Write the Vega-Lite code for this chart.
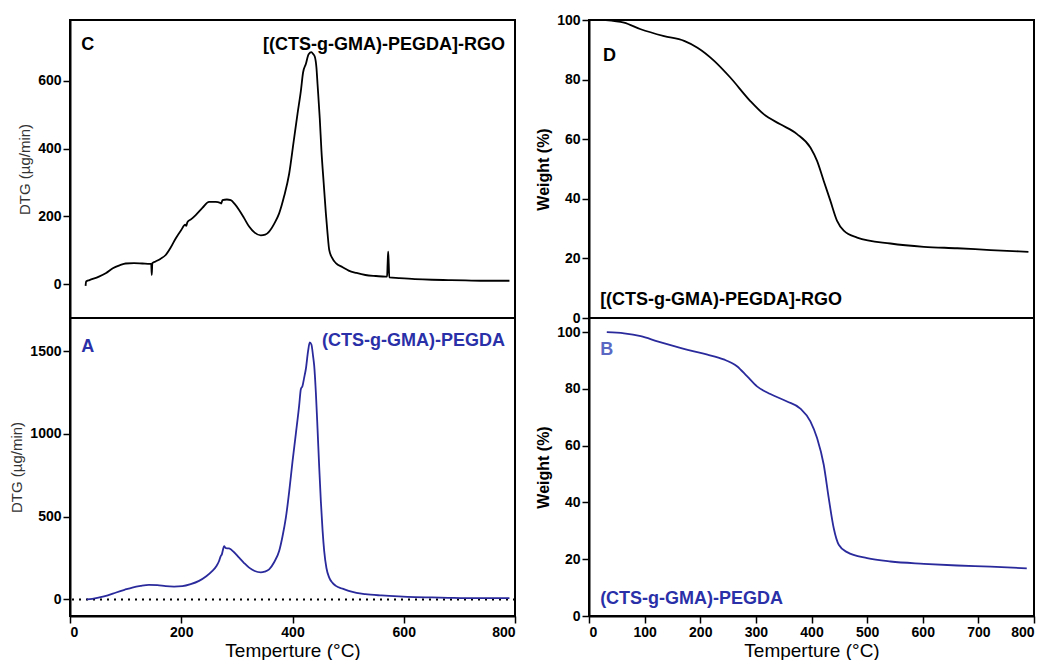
{
  "$schema": "https://vega.github.io/schema/vega-lite/v6.json",
  "background": "white",
  "padding": {"left": 8, "top": 12, "right": 5, "bottom": 2},
  "datasets": {
    "C": [
      {"t":28,"v":-5},{"t":29,"v":8},{"t":35,"v":12},{"t":52,"v":22},{"t":65,"v":33},{"t":77,"v":47},{"t":90,"v":56},{"t":100,"v":61},{"t":115,"v":62},{"t":130,"v":61},{"t":144,"v":60},{"t":146,"v":60},{"t":147,"v":27},{"t":148,"v":62},{"t":154,"v":67},{"t":163,"v":75},{"t":172,"v":86},{"t":181,"v":108},{"t":190,"v":135},{"t":200,"v":160},{"t":207,"v":176},{"t":209,"v":172},{"t":211,"v":183},{"t":218,"v":192},{"t":226,"v":204},{"t":238,"v":225},{"t":250,"v":243},{"t":262,"v":243},{"t":270,"v":240},{"t":272,"v":238},{"t":274,"v":248},{"t":282,"v":250},{"t":289,"v":248},{"t":296,"v":237},{"t":304,"v":219},{"t":313,"v":195},{"t":322,"v":170},{"t":332,"v":152},{"t":343,"v":144},{"t":351,"v":146},{"t":358,"v":155},{"t":367,"v":178},{"t":376,"v":209},{"t":385,"v":260},{"t":394,"v":326},{"t":402,"v":420},{"t":409,"v":503},{"t":415,"v":570},{"t":419,"v":625},{"t":424,"v":650},{"t":429,"v":679},{"t":434,"v":685},{"t":437,"v":680},{"t":440,"v":672},{"t":443,"v":640},{"t":445,"v":591},{"t":449,"v":490},{"t":452,"v":395},{"t":456,"v":300},{"t":460,"v":209},{"t":463,"v":150},{"t":466,"v":101},{"t":471,"v":78},{"t":478,"v":62},{"t":490,"v":50},{"t":501,"v":40},{"t":515,"v":33},{"t":531,"v":27},{"t":550,"v":24},{"t":567,"v":22},{"t":570,"v":22},{"t":571,"v":60},{"t":572,"v":96},{"t":573,"v":60},{"t":574,"v":20},{"t":591,"v":18},{"t":620,"v":15},{"t":651,"v":13},{"t":680,"v":12},{"t":711,"v":11},{"t":750,"v":10},{"t":790,"v":10}
    ],
    "A": [
      {"t":30,"v":0},{"t":40,"v":3},{"t":53,"v":12},{"t":68,"v":25},{"t":83,"v":42},{"t":98,"v":58},{"t":112,"v":72},{"t":127,"v":82},{"t":142,"v":88},{"t":157,"v":87},{"t":172,"v":80},{"t":187,"v":78},{"t":202,"v":80},{"t":217,"v":92},{"t":232,"v":112},{"t":245,"v":140},{"t":256,"v":172},{"t":263,"v":200},{"t":268,"v":232},{"t":271,"v":262},{"t":273,"v":272},{"t":275,"v":300},{"t":277,"v":322},{"t":280,"v":310},{"t":286,"v":308},{"t":295,"v":285},{"t":304,"v":252},{"t":313,"v":220},{"t":322,"v":192},{"t":332,"v":172},{"t":343,"v":164},{"t":350,"v":168},{"t":358,"v":182},{"t":367,"v":225},{"t":376,"v":292},{"t":382,"v":380},{"t":388,"v":492},{"t":394,"v":650},{"t":400,"v":832},{"t":406,"v":1000},{"t":412,"v":1172},{"t":415,"v":1270},{"t":418,"v":1290},{"t":421,"v":1340},{"t":424,"v":1392},{"t":428,"v":1500},{"t":431,"v":1552},{"t":434,"v":1540},{"t":437,"v":1470},{"t":439,"v":1412},{"t":442,"v":1250},{"t":445,"v":1032},{"t":448,"v":800},{"t":451,"v":592},{"t":454,"v":420},{"t":457,"v":292},{"t":461,"v":190},{"t":466,"v":132},{"t":472,"v":100},{"t":478,"v":82},{"t":490,"v":65},{"t":501,"v":52},{"t":515,"v":40},{"t":531,"v":32},{"t":560,"v":24},{"t":591,"v":18},{"t":620,"v":14},{"t":651,"v":12},{"t":680,"v":10},{"t":711,"v":8},{"t":750,"v":8},{"t":790,"v":8}
    ],
    "D": [
      {"t":30,"v":100},{"t":63,"v":99.1},{"t":93,"v":96.9},{"t":135,"v":94.6},{"t":171,"v":93},{"t":195,"v":90.7},{"t":225,"v":86.3},{"t":254,"v":80.7},{"t":290,"v":72.8},{"t":314,"v":68.4},{"t":344,"v":65},{"t":374,"v":61.7},{"t":398,"v":57.2},{"t":410,"v":52.7},{"t":422,"v":46},{"t":434,"v":39.3},{"t":446,"v":32.6},{"t":458,"v":29.3},{"t":482,"v":27},{"t":542,"v":25},{"t":602,"v":23.9},{"t":662,"v":23.4},{"t":722,"v":22.8},{"t":790,"v":22.2}
    ],
    "B": [
      {"t":32,"v":100},{"t":63,"v":99.6},{"t":93,"v":98.6},{"t":123,"v":96.8},{"t":153,"v":95.1},{"t":183,"v":93.5},{"t":213,"v":92.1},{"t":242,"v":90.4},{"t":266,"v":88},{"t":284,"v":84.5},{"t":302,"v":80.9},{"t":326,"v":78.2},{"t":356,"v":75.6},{"t":380,"v":73.1},{"t":398,"v":68.6},{"t":410,"v":62.7},{"t":422,"v":53.3},{"t":431,"v":41.5},{"t":440,"v":30.9},{"t":449,"v":25.1},{"t":464,"v":22.5},{"t":500,"v":20.4},{"t":542,"v":19.2},{"t":602,"v":18.4},{"t":662,"v":17.8},{"t":722,"v":17.4},{"t":787,"v":16.8}
    ]
  },
  "spacing": 17,
  "hconcat": [
    {
      "spacing": 0,
      "bounds": "flush",
      "vconcat": [
        {
          "width": 445, "height": 298,
          "layer": [
            {
              "data": {"name": "C"},
              "mark": {"type": "line", "color": "black", "strokeWidth": 1.8, "interpolate": "monotone"},
              "encoding": {
                "x": {"field": "t", "type": "quantitative", "scale": {"domain": [0, 800], "nice": false, "zero": false}, "axis": null},
                "y": {"field": "v", "type": "quantitative", "scale": {"domain": [-100, 780], "nice": false, "zero": false},
                      "axis": {"values": [0, 200, 400, 600], "format": "d", "title": "DTG (µg/min)", "titleFontSize": 15, "titleFontWeight": "normal", "titleColor": "#333333", "titlePadding": 5}}
              }
            },
            {
              "data": {"values": [{}]},
              "mark": {"type": "text", "fontSize": 18, "fontWeight": "bold", "align": "left", "baseline": "alphabetic", "color": "black"},
              "encoding": {"x": {"datum": 20}, "y": {"datum": 692}, "text": {"value": "C"}}
            },
            {
              "data": {"values": [{}]},
              "mark": {"type": "text", "fontSize": 18, "fontWeight": "bold", "align": "right", "baseline": "alphabetic", "color": "black"},
              "encoding": {"x": {"datum": 782}, "y": {"datum": 692}, "text": {"value": "[(CTS-g-GMA)-PEGDA]-RGO"}}
            }
          ]
        },
        {
          "width": 445, "height": 298,
          "layer": [
            {
              "data": {"values": [{}]},
              "mark": {"type": "rule", "color": "black", "strokeWidth": 2, "strokeDash": [2, 5]},
              "encoding": {"y": {"datum": 0}}
            },
            {
              "data": {"name": "A"},
              "mark": {"type": "line", "color": "#2a2a9c", "strokeWidth": 1.8, "interpolate": "monotone"},
              "encoding": {
                "x": {"field": "t", "type": "quantitative", "scale": {"domain": [0, 800], "nice": false, "zero": false},
                      "axis": {"values": [0, 200, 400, 600, 800], "format": "d", "title": "Temperture (°C)", "titleFontSize": 19, "titleFontWeight": "normal", "titlePadding": 2}},
                "y": {"field": "v", "type": "quantitative", "scale": {"domain": [-100, 1700], "nice": false, "zero": false},
                      "axis": {"values": [0, 500, 1000, 1500], "format": "d", "title": "DTG (µg/min)", "titleFontSize": 15, "titleFontWeight": "normal", "titleColor": "#333333", "titlePadding": 5}}
              }
            },
            {
              "data": {"values": [{}]},
              "mark": {"type": "text", "fontSize": 18, "fontWeight": "bold", "align": "left", "baseline": "alphabetic", "color": "#2a30a8"},
              "encoding": {"x": {"datum": 20}, "y": {"datum": 1493}, "text": {"value": "A"}}
            },
            {
              "data": {"values": [{}]},
              "mark": {"type": "text", "fontSize": 18, "fontWeight": "bold", "align": "right", "baseline": "alphabetic", "color": "#2a30a8"},
              "encoding": {"x": {"datum": 782}, "y": {"datum": 1530}, "text": {"value": "(CTS-g-GMA)-PEGDA"}}
            }
          ]
        }
      ]
    },
    {
      "spacing": 0,
      "bounds": "flush",
      "vconcat": [
        {
          "width": 445, "height": 298,
          "layer": [
            {
              "data": {"name": "D"},
              "mark": {"type": "line", "color": "black", "strokeWidth": 1.8, "interpolate": "monotone"},
              "encoding": {
                "x": {"field": "t", "type": "quantitative", "scale": {"domain": [0, 800], "nice": false, "zero": false}, "axis": null},
                "y": {"field": "v", "type": "quantitative", "scale": {"domain": [0, 100], "nice": false, "zero": false},
                      "axis": {"values": [0, 20, 40, 60, 80, 100], "title": "Weight (%)", "titleFontSize": 16, "titleFontWeight": "bold", "titlePadding": 5}}
              }
            },
            {
              "data": {"values": [{}]},
              "mark": {"type": "text", "fontSize": 18, "fontWeight": "bold", "align": "left", "baseline": "alphabetic", "color": "black"},
              "encoding": {"x": {"datum": 25}, "y": {"datum": 86.3}, "text": {"value": "D"}}
            },
            {
              "data": {"values": [{}]},
              "mark": {"type": "text", "fontSize": 18, "fontWeight": "bold", "align": "left", "baseline": "alphabetic", "color": "black"},
              "encoding": {"x": {"datum": 20}, "y": {"datum": 4.5}, "text": {"value": "[(CTS-g-GMA)-PEGDA]-RGO"}}
            }
          ]
        },
        {
          "width": 445, "height": 298,
          "layer": [
            {
              "data": {"name": "B"},
              "mark": {"type": "line", "color": "#2a2a9c", "strokeWidth": 1.8, "interpolate": "monotone"},
              "encoding": {
                "x": {"field": "t", "type": "quantitative", "scale": {"domain": [0, 800], "nice": false, "zero": false},
                      "axis": {"values": [0, 100, 200, 300, 400, 500, 600, 700, 800], "format": "d", "title": "Temperture (°C)", "titleFontSize": 19, "titleFontWeight": "normal", "titlePadding": 2}},
                "y": {"field": "v", "type": "quantitative", "scale": {"domain": [0, 105], "nice": false, "zero": false},
                      "axis": {"values": [0, 20, 40, 60, 80, 100], "title": "Weight (%)", "titleFontSize": 16, "titleFontWeight": "bold", "titlePadding": 5}}
              }
            },
            {
              "data": {"values": [{}]},
              "mark": {"type": "text", "fontSize": 18, "fontWeight": "bold", "align": "left", "baseline": "alphabetic", "color": "#5a68c4"},
              "encoding": {"x": {"datum": 20}, "y": {"datum": 91.9}, "text": {"value": "B"}}
            },
            {
              "data": {"values": [{}]},
              "mark": {"type": "text", "fontSize": 18, "fontWeight": "bold", "align": "left", "baseline": "alphabetic", "color": "#2a30a8"},
              "encoding": {"x": {"datum": 20}, "y": {"datum": 4.2}, "text": {"value": "(CTS-g-GMA)-PEGDA"}}
            }
          ]
        }
      ]
    }
  ],
  "config": {
    "view": {"stroke": "black", "strokeWidth": 2},
    "axis": {
      "grid": false,
      "domainColor": "black", "domainWidth": 2,
      "tickColor": "black", "tickWidth": 1.5, "tickSize": 7,
      "labelFont": "Liberation Sans", "labelFontSize": 14, "labelFontWeight": "bold", "labelColor": "black", "labelPadding": 2,
      "titleFont": "Liberation Sans", "titleColor": "black"
    },
    "text": {"font": "Liberation Sans"}
  }
}
